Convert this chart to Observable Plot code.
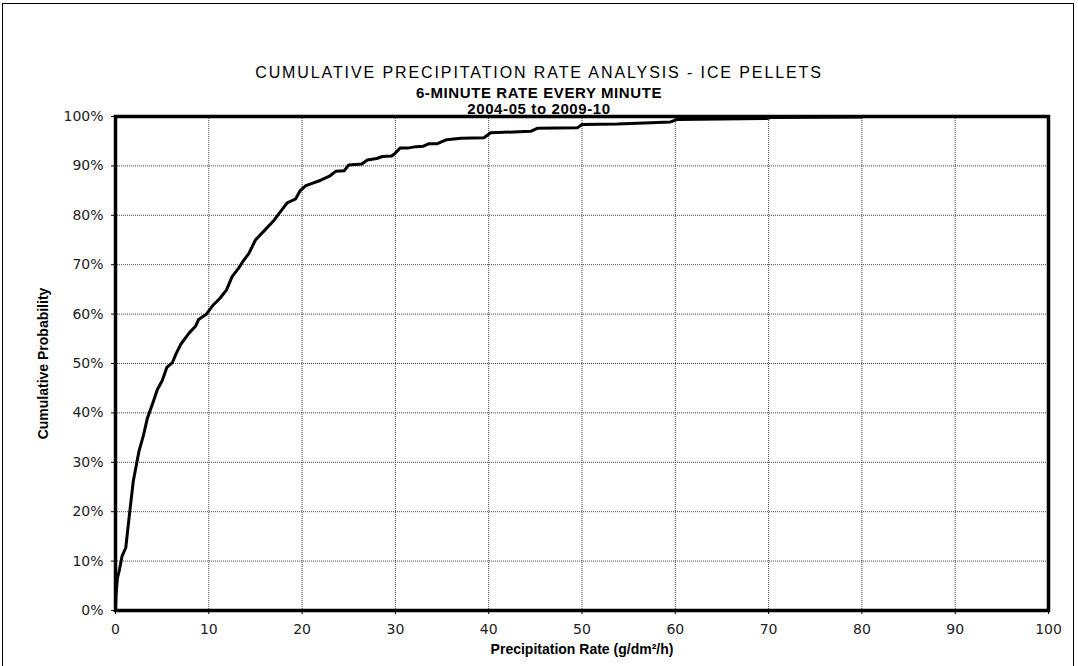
<!DOCTYPE html>
<html>
<head>
<meta charset="utf-8">
<script src="https://cdn.jsdelivr.net/npm/d3@7"></script>
<script src="https://cdn.jsdelivr.net/npm/@observablehq/plot@0.6"></script>
<style>
  html, body { margin: 0; padding: 0; background: #fff; }
  #wrap { position: relative; width: 1078px; height: 666px; overflow: hidden; }
  #border { position: absolute; left: 2px; top: 3px; width: 1072px; height: 700px;
            border: 1px solid #000; box-sizing: border-box; }
  .t { position: absolute; left: 0; width: 1078px; text-align: center; line-height: 1;
       font-family: "Liberation Sans", Arial, sans-serif; color: #000; white-space: nowrap; }
  #t1 { top: 65px; font-size: 16px; letter-spacing: 1.9px; }
  #t2 { top: 85px; font-size: 15px; font-weight: bold; letter-spacing: 0.6px; }
  #t3 { top: 101px; font-size: 15px; font-weight: bold; letter-spacing: 0.6px; }
  #chart { position: absolute; left: 0; top: 100px; }
</style>
</head>
<body>
<div id="wrap">
  <div id="border"></div>
  <div class="t" id="t1">CUMULATIVE PRECIPITATION RATE ANALYSIS - ICE PELLETS</div>
  <div class="t" id="t2">6-MINUTE RATE EVERY MINUTE</div>
  <div class="t" id="t3">2004-05 to 2009-10</div>
  <div id="chart"></div>
</div>
<script>
// Precipitation rate (g/dm²/h)
const rate = [0, 0.05, 0.2, 0.4, 0.7, 1.1, 1.45, 1.9, 2.5, 3.0, 3.4, 4.0, 4.5, 5.0, 5.5, 6.1, 6.5, 7.0, 7.9, 8.6, 8.9, 9.7, 10.5, 11.2, 11.9, 12.5, 13.2, 13.6, 14.3, 15.0, 16.0, 17.0, 17.5, 18.4, 19.3, 19.8, 20.4, 21.0, 22.0, 23.0, 23.6, 24.5, 25.0, 26.4, 27.0, 28.0, 28.6, 29.6, 30.0, 30.5, 31.3, 32.2, 33.0, 33.6, 34.5, 35.5, 37.0, 39.5, 40.2, 44.5, 45.2, 49.5, 50.0, 53.8, 59.5, 60.2, 69.8, 70.2, 80.0];
// Cumulative probability
const prob = [0, 0.03, 0.065, 0.08, 0.11, 0.127, 0.187, 0.261, 0.321, 0.355, 0.388, 0.42, 0.448, 0.465, 0.492, 0.502, 0.52, 0.539, 0.562, 0.576, 0.589, 0.599, 0.619, 0.632, 0.649, 0.676, 0.693, 0.705, 0.723, 0.75, 0.77, 0.79, 0.803, 0.825, 0.833, 0.85, 0.86, 0.864, 0.871, 0.88, 0.889, 0.89, 0.902, 0.904, 0.912, 0.915, 0.919, 0.92, 0.926, 0.936, 0.936, 0.939, 0.94, 0.945, 0.945, 0.953, 0.956, 0.957, 0.967, 0.97, 0.976, 0.977, 0.984, 0.985, 0.989, 0.994, 0.996, 0.998, 0.999];

const xTicks = [0, 10, 20, 30, 40, 50, 60, 70, 80, 90, 100];
const yTicks = [0, 0.1, 0.2, 0.3, 0.4, 0.5, 0.6, 0.7, 0.8, 0.9, 1.0];
const xGrid = [10, 20, 30, 40, 50, 60, 70, 80, 90];
const yGrid = [0.1, 0.2, 0.3, 0.4, 0.5, 0.6, 0.7, 0.8, 0.9];
const xTitle = "Precipitation Rate (g/dm²/h)";
const yTitle = "Cumulative Probability";

const data = rate.map((r, i) => ({rate: r, prob: prob[i]}));

const chart = Plot.plot({
  width: 1078,
  height: 566,
  marginLeft: 115,
  marginRight: 30,
  marginTop: 16,
  marginBottom: 56,
  style: {fontFamily: "'DejaVu Sans', sans-serif", fontSize: "14px", color: "#222", background: "transparent"},
  x: {domain: [0, 100]},
  y: {domain: [0, 1]},
  marks: [
    Plot.gridX(xGrid, {stroke: "#444", strokeOpacity: 1, strokeDasharray: "1,1"}),
    Plot.gridY(yGrid, {stroke: "#444", strokeOpacity: 1, strokeDasharray: "1,1"}),
    Plot.axisX(xTicks, {tickSize: 4, tickPadding: 10, label: null, stroke: "#000"}),
    Plot.axisY(yTicks, {tickSize: 4, tickPadding: 8, label: null, tickFormat: d3.format(".0%"), stroke: "#000"}),
    Plot.line(data, {x: "rate", y: "prob", stroke: "#000", strokeWidth: 3, strokeLinejoin: "round"}),
    Plot.frame({stroke: "#000", strokeWidth: 3.5}),
    Plot.text([xTitle], {frameAnchor: "bottom", dy: 43, text: d => d, fontFamily: "'Liberation Sans', Arial, sans-serif", fontSize: 14, fontWeight: "bold", fill: "#000"}),
    Plot.text([yTitle], {frameAnchor: "left", textAnchor: "middle", dx: -72, rotate: -90, text: d => d, fontFamily: "'Liberation Sans', Arial, sans-serif", fontSize: 14, fontWeight: "bold", fill: "#000"})
  ]
});
document.getElementById("chart").appendChild(chart);
</script>
</body>
</html>
